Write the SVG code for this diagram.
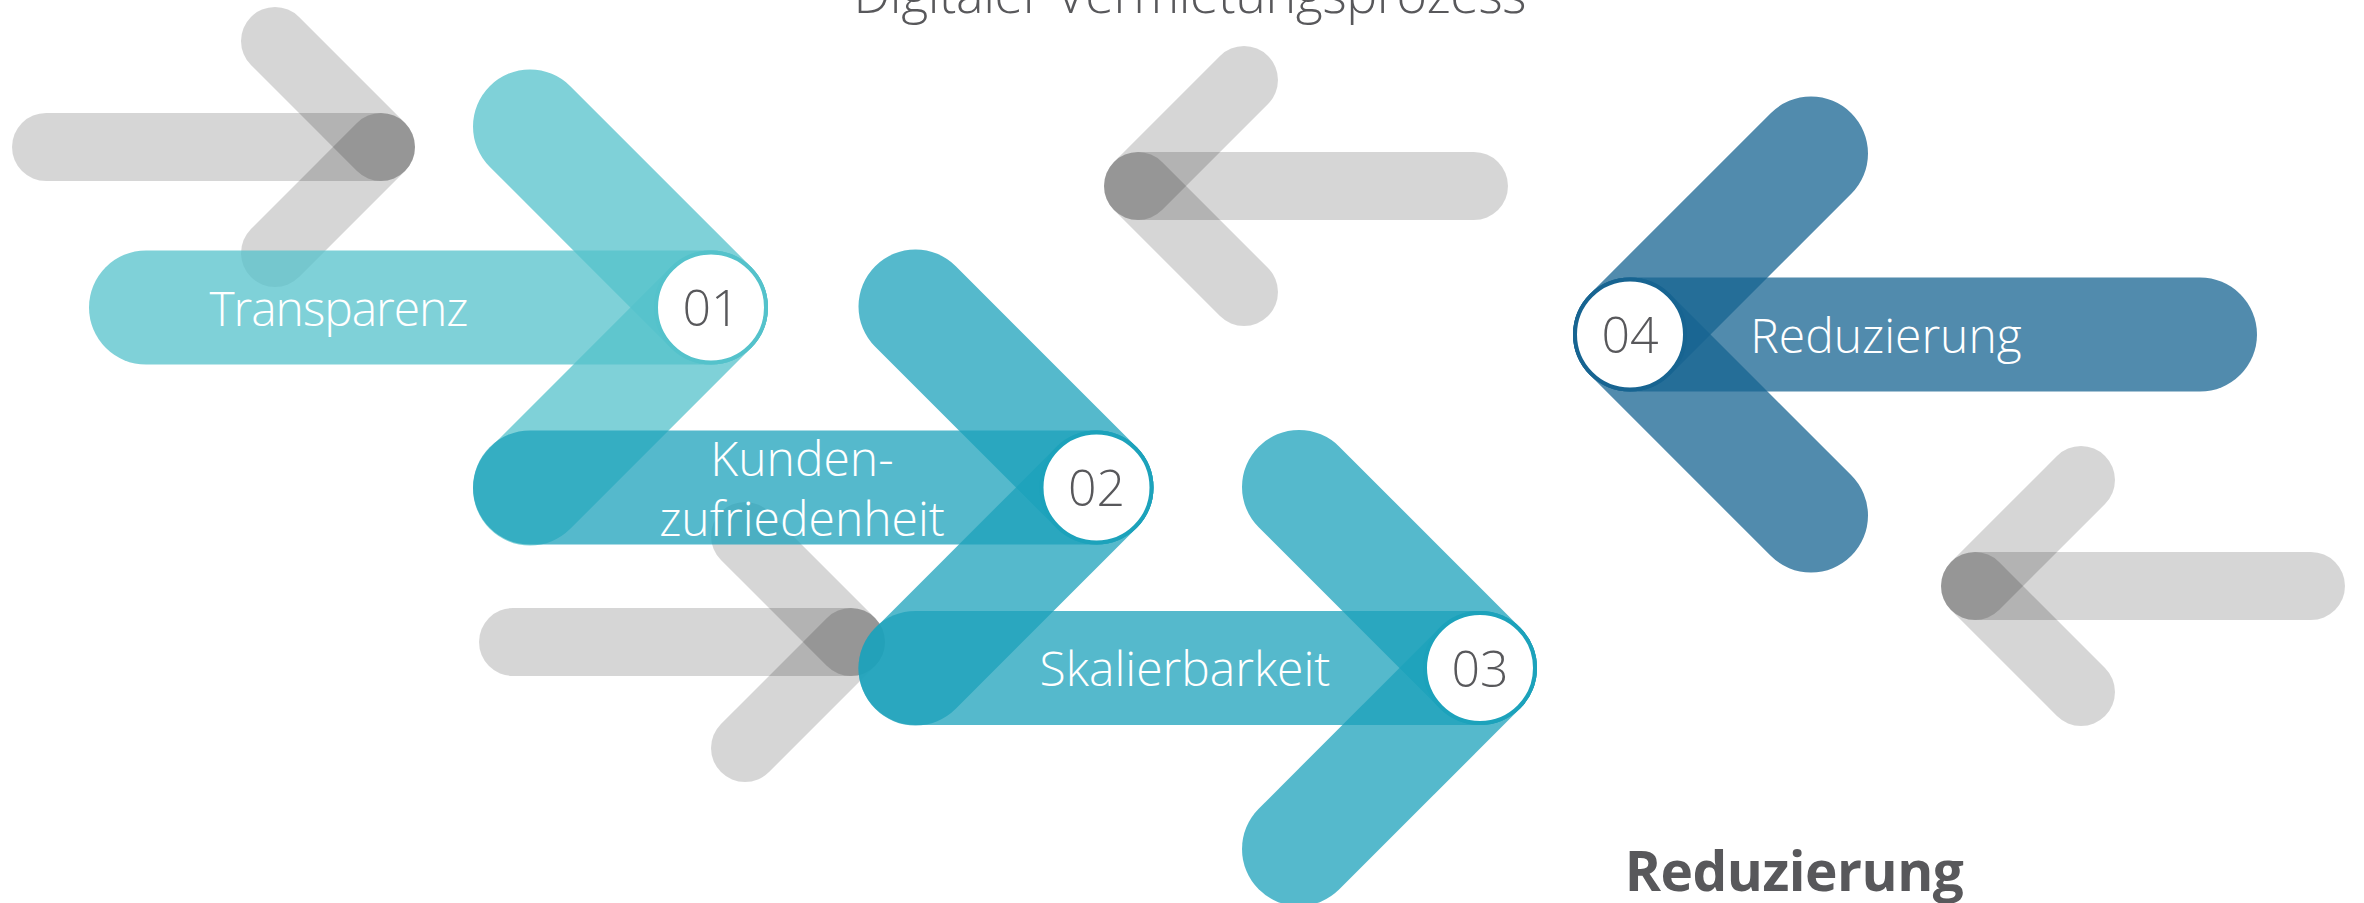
<svg xmlns="http://www.w3.org/2000/svg" width="2364" height="903" viewBox="0 0 2364 903">
<style>
.bg{fill:#fff}
.g line{stroke:#000;stroke-opacity:.16;stroke-width:68;stroke-linecap:round}
.a line{stroke-width:114;stroke-linecap:round;stroke-opacity:.75}
.t1 line{stroke:#54c2cb}
.t2 line{stroke:#1ca2bb}
.t4 line{stroke:#176491}
.c{fill:#fff;stroke-width:4}
.t1 .c{stroke:#54c2cb}
.t2 .c{stroke:#1ca2bb}
.t4 .c{stroke:#176491}
text{font-family:"Open Sans","Noto Sans","DejaVu Sans",sans-serif;text-anchor:middle}
.lbl{font-weight:300;font-size:48px;fill:#fff}
.num{font-weight:300;font-size:50px;fill:#58585b}
.title{font-weight:300;font-size:52px;fill:#58585b}
.sub{font-weight:700;font-size:55px;fill:#58585b;letter-spacing:-0.5px}
</style>
<rect class="bg" x="0" y="0" width="2364" height="903"/>
<text class="title" x="1190" y="13" textLength="673">Digitaler Vermietungsprozess</text>
<g id="decor" class="g">
  <g id="gray1">
    <line x1="46" y1="147" x2="381" y2="147"/>
    <line x1="275" y1="41" x2="381" y2="147"/>
    <line x1="275" y1="253" x2="381" y2="147"/>
  </g>
  <g id="gray2">
    <line x1="1474" y1="186" x2="1138" y2="186"/>
    <line x1="1244" y1="80" x2="1138" y2="186"/>
    <line x1="1244" y1="292" x2="1138" y2="186"/>
  </g>
  <g id="gray3">
    <line x1="513" y1="642" x2="851" y2="642"/>
    <line x1="745" y1="536" x2="851" y2="642"/>
    <line x1="745" y1="748" x2="851" y2="642"/>
  </g>
  <g id="gray4">
    <line x1="2311" y1="586" x2="1975" y2="586"/>
    <line x1="2081" y1="480" x2="1975" y2="586"/>
    <line x1="2081" y1="692" x2="1975" y2="586"/>
  </g>
</g>
<g id="connectors"></g>
<g id="step1" class="a t1">
  <line x1="146" y1="307.5" x2="711" y2="307.5"/>
  <line x1="530" y1="126.5" x2="711" y2="307.5"/>
  <line x1="530" y1="488.5" x2="711" y2="307.5"/>
  <circle class="c" cx="711" cy="307.5" r="55"/>
  <text class="lbl" x="339" y="326" textLength="259">Transparenz</text>
  <text class="num" x="711" y="326">01</text>
</g>
<g id="step2" class="a t2">
  <line x1="530" y1="487.5" x2="1096.5" y2="487.5"/>
  <line x1="915.5" y1="306.5" x2="1096.5" y2="487.5"/>
  <line x1="915.5" y1="668.5" x2="1096.5" y2="487.5"/>
  <circle class="c" cx="1096.5" cy="487.5" r="55"/>
  <text class="lbl" x="802" y="476">Kunden-</text>
  <text class="lbl" x="802" y="536">zufriedenheit</text>
  <text class="num" x="1096.5" y="506">02</text>
</g>
<g id="step3" class="a t2">
  <line x1="915.5" y1="668" x2="1480" y2="668"/>
  <line x1="1299" y1="487" x2="1480" y2="668"/>
  <line x1="1299" y1="849" x2="1480" y2="668"/>
  <circle class="c" cx="1480" cy="668" r="55"/>
  <text class="lbl" x="1185" y="686">Skalierbarkeit</text>
  <text class="num" x="1480" y="686.5">03</text>
</g>
<g id="step4" class="a t4">
  <line x1="2200" y1="334.5" x2="1630" y2="334.5"/>
  <line x1="1811" y1="153.5" x2="1630" y2="334.5"/>
  <line x1="1811" y1="515.5" x2="1630" y2="334.5"/>
  <circle class="c" cx="1630" cy="334.5" r="55"/>
  <text class="lbl" x="1886" y="352.5">Reduzierung</text>
  <text class="num" x="1630" y="352.5">04</text>
</g>
<text class="sub" x="1794" y="891">Reduzierung</text>
</svg>
